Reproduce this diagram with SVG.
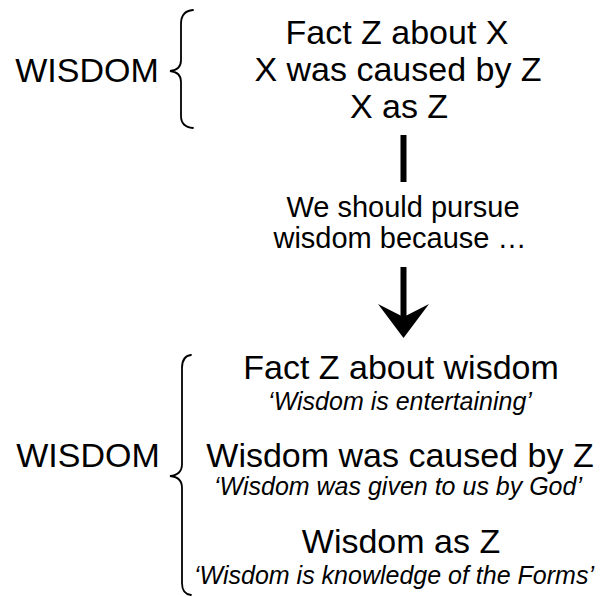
<svg xmlns="http://www.w3.org/2000/svg" width="609" height="597" viewBox="0 0 609 597">
<style>
text{font-family:"Liberation Sans",Arial,sans-serif;fill:#000;text-anchor:middle}
.big{font-size:34px}
.mid{font-size:29px}
.it{font-size:25px;font-style:italic}
.brace{fill:none;stroke:#000;stroke-width:1.8;stroke-linecap:round}
</style>
<rect width="609" height="597" fill="#fff"/>
<g id="top-wisdom">
<text class="big" x="87" y="82">WISDOM</text>
<path class="brace" d="M193,10 Q181,11 181,24 L181,60 Q181,70 170,71 Q181,72 181,82 L181,116 Q181,127 193,128"/>
</g>
<g id="top-items">
<text class="big" x="397" y="44">Fact Z about X</text>
<text class="big" x="398" y="81">X was caused by Z</text>
<text class="big" x="399" y="118">X as Z</text>
</g>
<g id="reason">
<text class="mid" x="403" y="217">We should pursue</text>
<text class="mid" x="400" y="248">wisdom because …</text>
</g>
<g id="connectors">
<rect x="400.5" y="135" width="6" height="47" fill="#000"/>
<rect x="400.5" y="267" width="6" height="52" fill="#000"/>
<polygon points="378,304 403.5,338 429,304 403.5,317" fill="#000"/>
</g>
<g id="bottom-wisdom">
<text class="big" x="88" y="467">WISDOM</text>
<path class="brace" d="M191,355 Q182,356 182,368 L182,464 Q182,475 170,476 Q182,477 182,488 L182,583 Q182,594 191,595"/>
</g>
<g id="bottom-items">
<text class="big" x="401" y="379">Fact Z about wisdom</text>
<text class="it" x="400" y="410">‘Wisdom is entertaining’</text>
<text class="big" x="400" y="467">Wisdom was caused by Z</text>
<text class="it" x="398" y="495">‘Wisdom was given to us by God’</text>
<text class="big" x="401" y="553">Wisdom as Z</text>
<text class="it" x="394" y="584">‘Wisdom is knowledge of the Forms’</text>
</g>
</svg>
